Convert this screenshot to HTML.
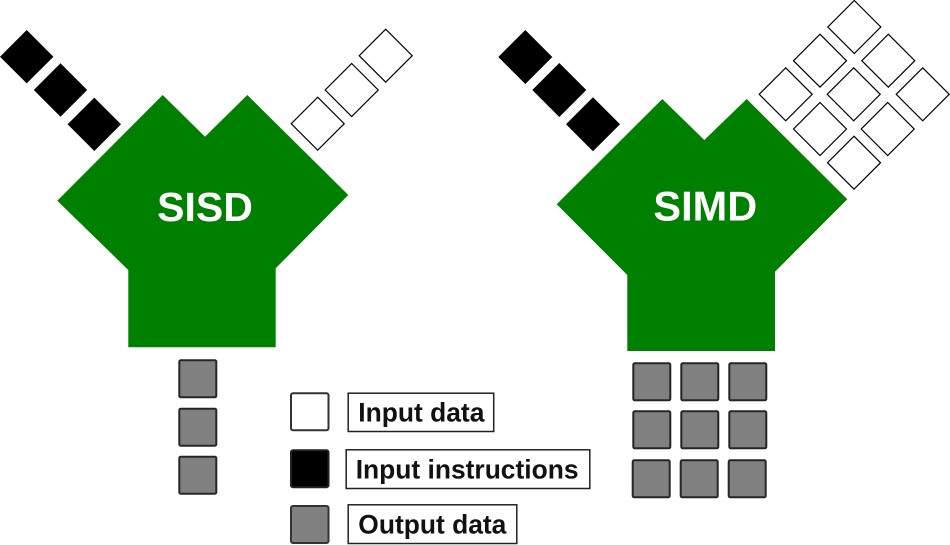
<!DOCTYPE html>
<html>
<head>
<meta charset="utf-8">
<style>
html,body{margin:0;padding:0;background:#fff;}
svg{display:block;}
</style>
</head>
<body>
<svg width="950" height="545" viewBox="0 0 950 545" xmlns="http://www.w3.org/2000/svg">
  <!-- SISD shape -->
  <polygon fill="#008000" points="162.7,95 205,136.7 247.3,95 348.3,195 275.7,268.3 275.7,347.3 128.3,347.3 128.3,270 57.3,200.7"/>
  <text x="205" y="221" text-anchor="middle" font-family="Liberation Sans, Arial, sans-serif" font-weight="bold" font-size="41" fill="#fff">SISD</text>

  <!-- SISD black instruction diamonds -->
  <g fill="#000">
    <polygon points="26.7,30 53.4,56.7 26.7,83.4 0,56.7"/>
    <polygon points="60.5,63.3 87.2,90 60.5,116.7 33.8,90"/>
    <polygon points="94.3,97.6 121,124.3 94.3,151 67.6,124.3"/>
  </g>
  <!-- SISD white data diamonds -->
  <g fill="#fff" stroke="#000" stroke-width="1.2">
    <polygon points="385.7,29.2 412.2,55.7 385.7,82.2 359.2,55.7"/>
    <polygon points="351.7,63.5 378.2,90 351.7,116.5 325.2,90"/>
    <polygon points="317.7,97.2 344.2,123.7 317.7,150.2 291.2,123.7"/>
  </g>
  <!-- SISD output -->
  <g fill="#808080" stroke="#262626" stroke-width="2">
    <rect x="179.3" y="360.3" width="37" height="37" rx="1.5"/>
    <rect x="179.3" y="408.7" width="37" height="37" rx="1.5"/>
    <rect x="179.3" y="456.7" width="37" height="37" rx="1.5"/>
  </g>

  <!-- SIMD shape -->
  <polygon fill="#008000" points="662.3,99 704.3,140 746.7,99 847.3,199.3 775,271.7 775,351 627.3,351 627.3,275 556.7,204.3"/>
  <text x="705.3" y="220.7" text-anchor="middle" font-family="Liberation Sans, Arial, sans-serif" font-weight="bold" font-size="41.5" fill="#fff">SIMD</text>

  <!-- SIMD black instruction diamonds -->
  <g fill="#000">
    <polygon points="525.3,30 552.3,57 525.3,84 498.3,57"/>
    <polygon points="559.3,63 586.3,90 559.3,117 532.3,90"/>
    <polygon points="593,97.3 620,124.3 593,151.3 566,124.3"/>
  </g>
  <!-- SIMD white data diamonds 3x3 -->
  <g fill="#fff" stroke="#000" stroke-width="1.2">
    <polygon points="854.3,0.5 880.8,27 854.3,53.5 827.8,27"/>
    <polygon points="820,34.2 846.5,60.7 820,87.2 793.5,60.7"/>
    <polygon points="888.3,34.2 914.8,60.7 888.3,87.2 861.8,60.7"/>
    <polygon points="785.7,67.8 812.2,94.3 785.7,120.8 759.2,94.3"/>
    <polygon points="853.7,67.8 880.2,94.3 853.7,120.8 827.2,94.3"/>
    <polygon points="922.7,67.8 949.2,94.3 922.7,120.8 896.2,94.3"/>
    <polygon points="820,102.5 846.5,129 820,155.5 793.5,129"/>
    <polygon points="887.7,102.5 914.2,129 887.7,155.5 861.2,129"/>
    <polygon points="854,136.2 880.5,162.7 854,189.2 827.5,162.7"/>
  </g>
  <!-- SIMD output 3x3 -->
  <g fill="#808080" stroke="#262626" stroke-width="2">
    <rect x="633.3" y="363.3" width="37" height="37" rx="1.5"/>
    <rect x="681.3" y="363.3" width="37" height="37" rx="1.5"/>
    <rect x="729.3" y="363.3" width="37" height="37" rx="1.5"/>
    <rect x="633.3" y="411.3" width="37" height="37" rx="1.5"/>
    <rect x="681.3" y="411.3" width="37" height="37" rx="1.5"/>
    <rect x="729.3" y="411.3" width="37" height="37" rx="1.5"/>
    <rect x="632.7" y="460.3" width="37" height="37" rx="1.5"/>
    <rect x="680.7" y="460.3" width="37" height="37" rx="1.5"/>
    <rect x="728.7" y="460.3" width="37" height="37" rx="1.5"/>
  </g>

  <!-- Legend -->
  <rect x="291" y="393.3" width="37.5" height="37" rx="2" fill="#fff" stroke="#333" stroke-width="2"/>
  <rect x="291" y="450.3" width="37.5" height="37" rx="2" fill="#000" stroke="#222" stroke-width="2"/>
  <rect x="291" y="506" width="37.5" height="37" rx="2" fill="#808080" stroke="#333" stroke-width="2"/>

  <g fill="#fff" stroke="#222" stroke-width="1.5">
    <rect x="348.2" y="393.2" width="145.5" height="38.3"/>
    <rect x="346.2" y="449.8" width="243.6" height="38.7"/>
    <rect x="348.2" y="504.8" width="168.6" height="38.7"/>
  </g>
  <g font-family="Liberation Sans, Arial, sans-serif" font-weight="bold" font-size="26.4" fill="#111">
    <text x="358.3" y="421.7">Input data</text>
    <text x="355.7" y="478.3">Input instructions</text>
    <text x="358.3" y="533.3">Output data</text>
  </g>
</svg>
</body>
</html>
